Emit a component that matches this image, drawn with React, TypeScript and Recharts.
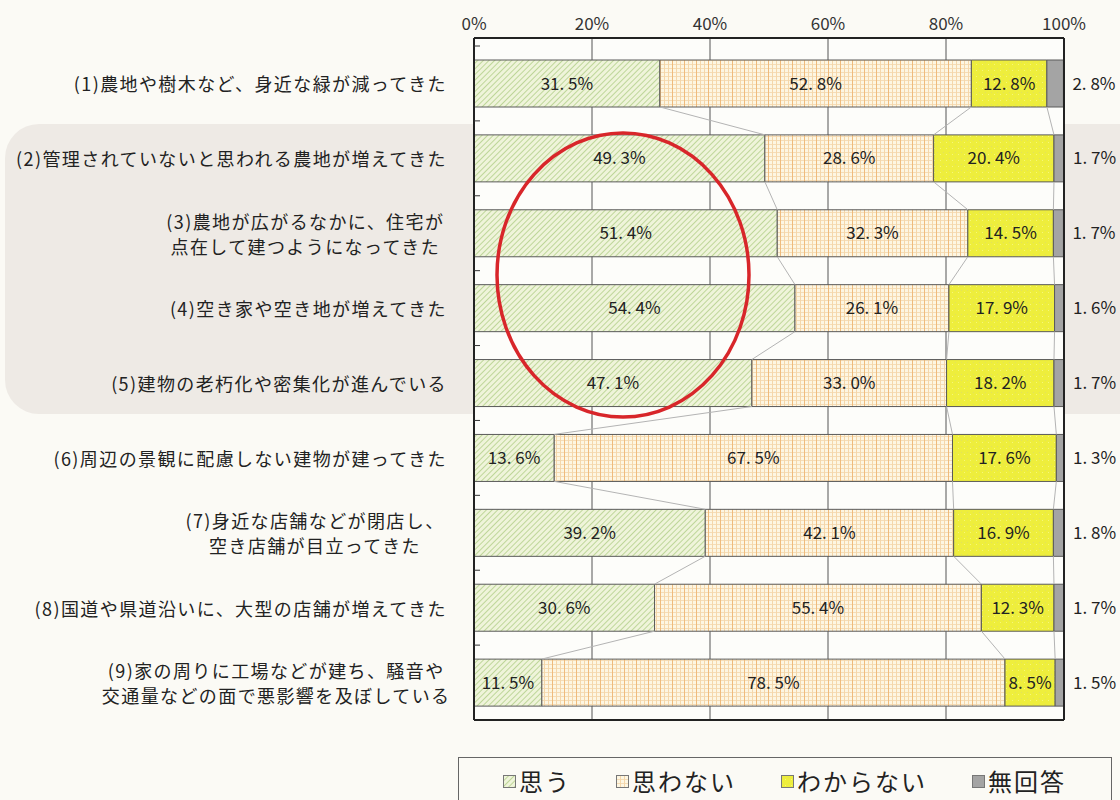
import React from "react";
import { BarChart, Bar, XAxis, YAxis, CartesianGrid, LabelList, ReferenceLine } from "recharts";

const FONT = '"Noto Sans CJK JP", "Noto Sans", sans-serif';

const items = [
  ["(1)農地や樹木など、身近な緑が減ってきた"],
  ["(2)管理されていないと思われる農地が増えてきた"],
  ["(3)農地が広がるなかに、住宅が", "点在して建つようになってきた"],
  ["(4)空き家や空き地が増えてきた"],
  ["(5)建物の老朽化や密集化が進んでいる"],
  ["(6)周辺の景観に配慮しない建物が建ってきた"],
  ["(7)身近な店舗などが閉店し、", "空き店舗が目立ってきた"],
  ["(8)国道や県道沿いに、大型の店舗が増えてきた"],
  ["(9)家の周りに工場などが建ち、騒音や", "交通量などの面で悪影響を及ぼしている"],
];

const omou = [31.5, 49.3, 51.4, 54.4, 47.1, 13.6, 39.2, 30.6, 11.5];
const omowanai = [52.8, 28.6, 32.3, 26.1, 33.0, 67.5, 42.1, 55.4, 78.5];
const wakaranai = [12.8, 20.4, 14.5, 17.9, 18.2, 17.6, 16.9, 12.3, 8.5];
const mukaitou = [2.8, 1.7, 1.7, 1.6, 1.7, 1.3, 1.8, 1.7, 1.5];

const xTicks = [0, 20, 40, 60, 80, 100];
const rowEdges = [-0.5, 0.5, 1.5, 2.5, 3.5, 4.5, 5.5, 6.5, 7.5];

const series = [
  { key: "omou", name: "思う", fill: "url(#pOmou)" },
  { key: "omowanai", name: "思わない", fill: "url(#pNo)" },
  { key: "wakaranai", name: "わからない", fill: "url(#pYel)" },
  { key: "mukaitou", name: "無回答", fill: "#a4a4a4" },
];

const data = items.map((lines, i) => ({
  key: lines.join("\n"),
  row: i,
  omou: omou[i],
  omowanai: omowanai[i],
  wakaranai: wakaranai[i],
  mukaitou: mukaitou[i],
}));

const BAR = 47;
const TOP_PAD = 8;
const BAND = (720 - 38 - TOP_PAD) / items.length;
const half = BAR / 2 / BAND;

const fmt = (v: number) => v.toFixed(1).replace(".", ". ") + "%";

const FS = 18;
const LS = 1.4;
const textW = (s: string) =>
  [...s].reduce((w, ch) => w + (/[\x00-\x7f]/.test(ch) ? FS * 0.5 : FS) + LS, 0);

function CatTick(props: any) {
  const { x, y, payload } = props;
  const lines = String(payload.value).split("\n");
  const right = x - 19;
  const style = { fontFamily: FONT, fontSize: FS, letterSpacing: LS, fill: "#222" };
  if (lines.length === 1) {
    return (
      <text x={right} y={y} textAnchor="end" dominantBaseline="central" style={style}>
        {lines[0]}
      </text>
    );
  }
  const cx = right - textW(lines[0]) / 2;
  return (
    <g>
      {lines.map((l, k) => (
        <text key={k} x={cx} y={y + (k - 0.5) * 25} textAnchor="middle" dominantBaseline="central" style={style}>
          {l}
        </text>
      ))}
    </g>
  );
}

// segment boundaries, joined between neighbouring bars by thin series lines
const bounds = data.map((d) => [d.omou, d.omou + d.omowanai, d.omou + d.omowanai + d.wakaranai]);

export default function App() {
  return (
    <div style={{ position: "absolute", left: 0, top: 0, width: 1120, height: 800, background: "#fbfaf5", overflow: "hidden", fontFamily: FONT }}>
      <div style={{ position: "absolute", left: 5, top: 124, width: 1160, height: 290, background: "#eeeae5", borderRadius: 34 }} />
      <div style={{ position: "absolute", left: 0, top: 0 }}>
        <BarChart width={1120} height={800} layout="vertical" data={data} barSize={BAR}
          margin={{ top: 8, right: 55, bottom: 79, left: 0 }}>
          <defs>
            <pattern id="pOmou" width="4" height="4" patternUnits="userSpaceOnUse" patternTransform="rotate(45)">
              <rect width="4" height="4" fill="#eff4da" />
              <line x1="0" y1="0" x2="0" y2="4" stroke="#b2cf88" strokeWidth="1.6" />
            </pattern>
            <pattern id="pNo" width="12" height="4" patternUnits="userSpaceOnUse">
              <rect width="12" height="4" fill="#fdf6e2" />
              <line x1="0" y1="0.5" x2="12" y2="0.5" stroke="#f5dcb6" strokeWidth="1" />
              <line x1="0.5" y1="0" x2="0.5" y2="4" stroke="#efbb7c" strokeWidth="1" />
              <line x1="4.5" y1="0" x2="4.5" y2="4" stroke="#f5d7aa" strokeWidth="1" />
              <line x1="8.5" y1="0" x2="8.5" y2="4" stroke="#f5d7aa" strokeWidth="1" />
            </pattern>
            <pattern id="pYel" width="6" height="6" patternUnits="userSpaceOnUse">
              <rect width="6" height="6" fill="#eeee3c" />
              <rect x="1" y="2" width="1" height="1" fill="#e0e060" />
              <rect x="4" y="4" width="1" height="1" fill="#f6f67a" />
            </pattern>
          </defs>
          <CartesianGrid xAxisId="top" yAxisId="cat" horizontal={false} stroke="#555" fill="#fdfdfa" fillOpacity={1} />
          <XAxis xAxisId="top" orientation="top" type="number" domain={[0, 100]} ticks={xTicks}
            tickFormatter={(v) => `${v}%`} tickLine={false}
            axisLine={{ stroke: "#222", strokeWidth: 2 }}
            tick={{ fontSize: 17, fill: "#333", fontFamily: FONT }} />
          <XAxis xAxisId="bot" orientation="bottom" type="number" domain={[0, 100]} height={1}
            tick={false} tickLine={false} axisLine={{ stroke: "#222", strokeWidth: 2 }} />
          <YAxis yAxisId="cat" type="category" dataKey="key" width={474} interval={0}
            padding={{ top: TOP_PAD, bottom: 0 }} tickLine={false}
            axisLine={{ stroke: "#222", strokeWidth: 2 }} tick={<CatTick />} />
          <YAxis yAxisId="num" type="number" dataKey="row" domain={["dataMin", "dataMax"]} allowDataOverflow mirror
            padding={{ top: TOP_PAD + BAND / 2, bottom: BAND / 2 }} ticks={rowEdges} interval={0}
            tick={{ fill: "none", fontSize: 1 }} tickSize={6} tickLine={{ stroke: "#333" }} axisLine={false} />
          <YAxis yAxisId="right" orientation="right" type="number" domain={[0, 1]} width={1}
            tick={false} tickLine={false} axisLine={{ stroke: "#222", strokeWidth: 2 }} />
          {bounds.slice(0, -1).map((b, i) =>
            b.map((v, k) => (
              <ReferenceLine key={`${i}-${k}`} xAxisId="top" yAxisId="num" ifOverflow="visible"
                segment={[{ x: v, y: i + half }, { x: bounds[i + 1][k], y: i + 1 - half }]}
                stroke="#b4b4b4" strokeWidth={1} />
            ))
          )}
          {series.map((s, idx) => (
            <Bar key={s.key} dataKey={s.key} name={s.name} stackId="a" xAxisId="top" yAxisId="cat"
              fill={s.fill} stroke="#5a5a5a" strokeWidth={1} isAnimationActive={false}>
              <LabelList dataKey={s.key} position={idx === 3 ? "right" : "center"} offset={idx === 3 ? 9 : 5}
                formatter={(v: any) => fmt(Number(v))}
                style={{ fontSize: 17, fill: "#222", fontFamily: FONT }} />
            </Bar>
          ))}
        </BarChart>
      </div>
      <svg width={1120} height={800} style={{ position: "absolute", left: 0, top: 0, pointerEvents: "none" }}>
        <ellipse cx={623} cy={275} rx={126} ry={142} fill="none" stroke="#d8262a" strokeWidth={3.5} />
      </svg>
      <div style={{ position: "absolute", left: 458, top: 757, width: 654, height: 70, border: "1px solid #666",
        boxSizing: "border-box", display: "flex", alignItems: "flex-start", paddingLeft: 44, paddingTop: 6, gap: 45 }}>
        {series.map((s) => (
          <div key={s.key} style={{ display: "flex", alignItems: "center" }}>
            <svg width={13} height={13} style={{ marginRight: 3 }}>
              <rect x={0.5} y={0.5} width={12} height={12} fill={s.fill} stroke="#777" strokeWidth={1} />
            </svg>
            <span style={{ fontSize: 24, letterSpacing: 2, color: "#222", lineHeight: "34px" }}>{s.name}</span>
          </div>
        ))}
      </div>
    </div>
  );
}
